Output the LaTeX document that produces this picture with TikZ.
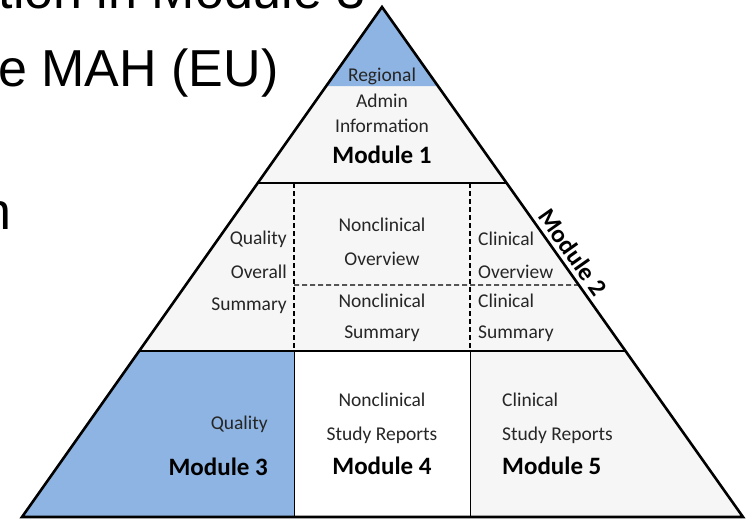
\documentclass[tikz,border=0pt]{standalone}
\usepackage{fontspec}
\setmainfont{Carlito}
\newfontfamily\slidefont{Liberation Sans}
\usetikzlibrary{calc}
\definecolor{modblue}{RGB}{141,180,226}
\definecolor{cellgray}{RGB}{246,246,246}

\begin{document}
\begin{tikzpicture}[x=1pt,y=-1pt,
  frame/.style={line width=2.6pt, line join=miter},
  divider/.style={line width=2.4pt},
  thinrule/.style={line width=1pt},
  dashrule/.style={line width=1.1pt, dash pattern=on 5pt off 3pt},
  lbl/.style={font=\fontsize{19.5}{19.5}\selectfont, inner sep=0pt, text=black!85},
  modlbl/.style={font=\fontsize{25}{25}\selectfont\bfseries, inner sep=0pt},
  slide/.style={font=\slidefont\fontsize{52}{52}\selectfont, inner sep=0pt}]
\useasboundingbox (0,0) rectangle (750,519);

% slide text behind the pyramid, cut by the page edge
\begin{scope}
  \clip (0,0) rectangle (750,519);
  \node[slide, anchor=base east] (s1) at (366,9) {ation in Module 3};
  \node[slide, anchor=base west] (s2) at (-2,86) {e MAH (EU)};
  \node[slide, anchor=base east] (s3) at (12,229) {n};
\end{scope}

% pyramid corners and the points where the rows meet its sides
\coordinate (A) at (382,7);
\coordinate (BL) at (22,517);
\coordinate (BR) at (743,517);
\coordinate (r1L) at ($(A)!0.1549!(BL)$);
\coordinate (r1R) at ($(A)!0.1549!(BR)$);
\coordinate (m1L) at ($(A)!0.3451!(BL)$);
\coordinate (m1R) at ($(A)!0.3451!(BR)$);
\coordinate (h2R) at ($(A)!0.5451!(BR)$);
\coordinate (m2L) at ($(A)!0.6745!(BL)$);
\coordinate (m2R) at ($(A)!0.6745!(BR)$);
\coordinate (v1t) at (294,183);
\coordinate (v1h) at (294,285);
\coordinate (v1m) at (294,351);
\coordinate (v1b) at (294,517);
\coordinate (v2t) at (470,183);
\coordinate (v2m) at (470,351);
\coordinate (v2b) at (470,517);

% fills
\fill[cellgray] (A) -- (BL) -- (BR) -- cycle;
\fill[modblue] (A) -- (r1L) -- (r1R) -- cycle;
\fill[modblue] (m2L) -- (BL) -- (v1b) -- (v1m) -- cycle;
\fill[white] (v1m) rectangle (v2b);

% row and column rules
\draw[dashrule] (v1t) -- (v1m);
\draw[dashrule] (v2t) -- (v2m);
\draw[dashrule] (v1h) -- (h2R);
\draw[thinrule] (v1m) -- (v1b);
\draw[thinrule] (v2m) -- (v2b);
\draw[divider] (m1L) -- (m1R);
\draw[divider] (m2L) -- (m2R);
\draw[frame] (A) -- (BL) -- (BR) -- cycle;

% Module 1
\node[lbl] (reg) at (382,76) {Regional};
\node[lbl] (adm) at (382,101) {Admin};
\node[lbl] (inf) at (382,126) {Information};
\node[modlbl] (mod1) at (382,155) {Module 1};

% Module 2
\node[lbl, anchor=east] (q2a) at (287,239) {Quality};
\node[lbl, anchor=east] (q2b) at (287,272) {Overall};
\node[lbl, anchor=east] (q2c) at (287,306) {Summary};
\node[lbl] (nco1) at (382,225) {Nonclinical};
\node[lbl] (nco2) at (382,259) {Overview};
\node[lbl] (ncs1) at (382,301) {Nonclinical};
\node[lbl] (ncs2) at (382,334) {Summary};
\node[lbl, anchor=west] (clo1) at (478,239) {Clinical};
\node[lbl, anchor=west] (clo2) at (478,272) {Overview};
\node[lbl, anchor=west] (cls1) at (478,301) {Clinical};
\node[lbl, anchor=west] (cls2) at (478,334) {Summary};
\node[modlbl, rotate=-54.8] (mod2) at (573,252) {Module 2};

% Modules 3, 4, 5
\node[lbl, anchor=east] (q3) at (268,424) {Quality};
\node[modlbl, anchor=east] (mod3) at (268,467) {Module 3};
\node[lbl] (nc4a) at (382,400) {Nonclinical};
\node[lbl] (nc4b) at (382,435) {Study Reports};
\node[modlbl] (mod4) at (382,466) {Module 4};
\node[lbl, anchor=west] (cl5a) at (502,400) {Clinical};
\node[lbl, anchor=west] (cl5b) at (502,435) {Study Reports};
\node[modlbl, anchor=west] (mod5) at (502,466) {Module 5};
\end{tikzpicture}
\end{document}
